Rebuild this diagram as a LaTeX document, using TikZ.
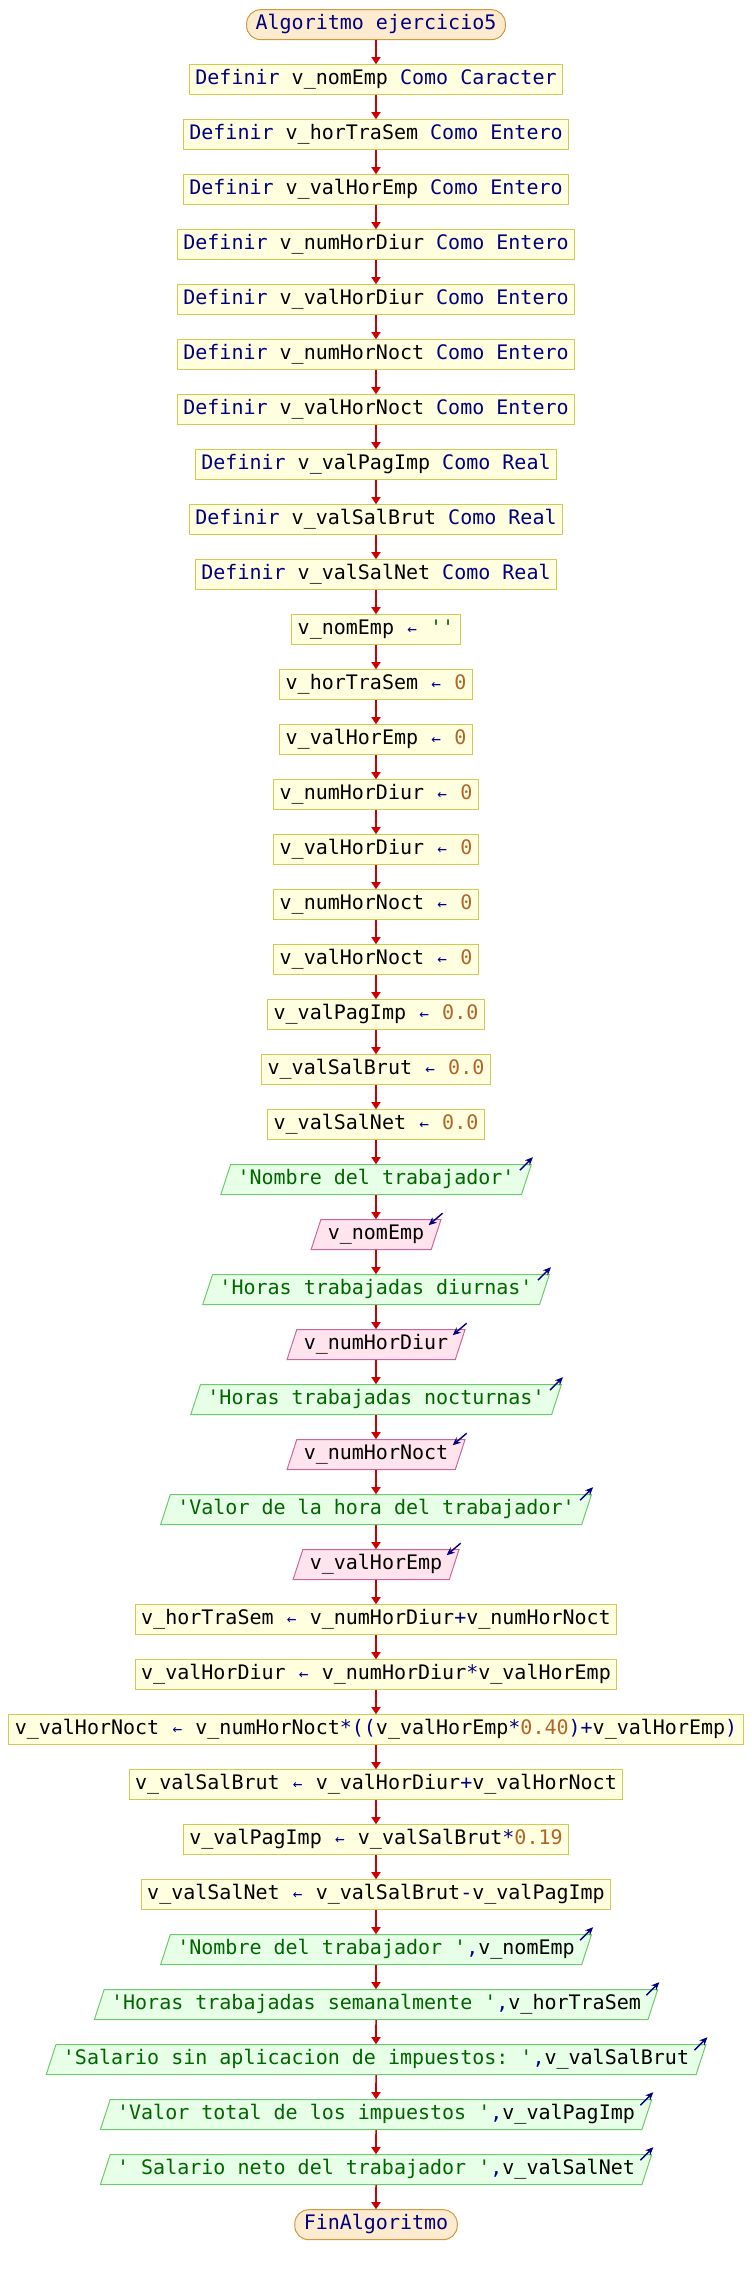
\documentclass[tikz,border=0pt]{standalone}
\usepackage{fontspec}
\setmonofont{DejaVu Sans Mono}
\usetikzlibrary{shapes.geometric,arrows.meta}
\definecolor{kwc}{RGB}{0,0,128}
\definecolor{strc}{RGB}{0,100,0}
\definecolor{numc}{RGB}{176,100,40}
\definecolor{procf}{RGB}{255,255,224}
\definecolor{procd}{RGB}{204,204,85}
\definecolor{termf}{RGB}{253,235,208}
\definecolor{termd}{RGB}{210,150,60}
\definecolor{outf}{RGB}{230,255,230}
\definecolor{outd}{RGB}{110,200,110}
\definecolor{inf}{RGB}{255,228,238}
\definecolor{ind}{RGB}{204,102,153}
\definecolor{flowc}{RGB}{204,0,0}
\newcommand{\K}[1]{\textcolor{kwc}{#1}}
\newcommand{\Sg}[1]{\textcolor{strc}{#1}}
\newcommand{\Nm}[1]{\textcolor{numc}{#1}}
\newcommand{\Ar}{\makebox[12.04pt]{\textcolor{kwc}{\fontsize{16}{16}\selectfont ←}}}
\tikzset{
  base/.style={font=\ttfamily\fontsize{20}{24}\selectfont, text height=15pt, text depth=5pt, inner ysep=5pt, inner xsep=6pt, line width=1pt},
  proc/.style={base, rectangle, draw=procd, fill=procf},
  term/.style={base, rectangle, rounded corners=14pt, draw=termd, fill=termf, inner xsep=9pt, text=kwc},
  outp/.style={base, trapezium, trapezium left angle=72, trapezium right angle=108, draw=outd, fill=outf, inner xsep=7pt},
  inp/.style={base, trapezium, trapezium left angle=72, trapezium right angle=108, draw=ind, fill=inf, inner xsep=7pt},
  flow/.style={draw=flowc, line width=1.6pt, -{Triangle[length=7pt,width=9pt]}},
  icon/.style={draw=kwc, line width=1.4pt, -{Stealth[length=8pt,width=7pt]}}
}
\newcommand{\OutIcon}[1]{\draw[icon] ([shift={(-12pt,-6pt)}]#1.top right corner) -- ([shift={(1pt,7pt)}]#1.top right corner);}
\newcommand{\InIcon}[1]{\draw[icon] ([shift={(1pt,6pt)}]#1.top right corner) -- ([shift={(-13pt,-6pt)}]#1.top right corner);}
\begin{document}
\begin{tikzpicture}[x=1pt,y=-1pt]
\useasboundingbox (0,0) rectangle (752,2275);
\node[term] (n0) at (376,24.7) {Algoritmo ejercicio5};
\node[proc] (n1) at (376,79.7) {\K{Definir} v\_nomEmp \K{Como Caracter}};
\node[proc] (n2) at (376,134.7) {\K{Definir} v\_horTraSem \K{Como Entero}};
\node[proc] (n3) at (376,189.7) {\K{Definir} v\_valHorEmp \K{Como Entero}};
\node[proc] (n4) at (376,244.7) {\K{Definir} v\_numHorDiur \K{Como Entero}};
\node[proc] (n5) at (376,299.7) {\K{Definir} v\_valHorDiur \K{Como Entero}};
\node[proc] (n6) at (376,354.7) {\K{Definir} v\_numHorNoct \K{Como Entero}};
\node[proc] (n7) at (376,409.7) {\K{Definir} v\_valHorNoct \K{Como Entero}};
\node[proc] (n8) at (376,464.7) {\K{Definir} v\_valPagImp \K{Como Real}};
\node[proc] (n9) at (376,519.7) {\K{Definir} v\_valSalBrut \K{Como Real}};
\node[proc] (n10) at (376,574.7) {\K{Definir} v\_valSalNet \K{Como Real}};
\node[proc] (n11) at (376,629.7) {v\_nomEmp \Ar{} \Sg{''}};
\node[proc] (n12) at (376,684.7) {v\_horTraSem \Ar{} \Nm{0}};
\node[proc] (n13) at (376,739.7) {v\_valHorEmp \Ar{} \Nm{0}};
\node[proc] (n14) at (376,794.7) {v\_numHorDiur \Ar{} \Nm{0}};
\node[proc] (n15) at (376,849.7) {v\_valHorDiur \Ar{} \Nm{0}};
\node[proc] (n16) at (376,904.7) {v\_numHorNoct \Ar{} \Nm{0}};
\node[proc] (n17) at (376,959.7) {v\_valHorNoct \Ar{} \Nm{0}};
\node[proc] (n18) at (376,1014.7) {v\_valPagImp \Ar{} \Nm{0.0}};
\node[proc] (n19) at (376,1069.7) {v\_valSalBrut \Ar{} \Nm{0.0}};
\node[proc] (n20) at (376,1124.7) {v\_valSalNet \Ar{} \Nm{0.0}};
\node[outp] (n21) at (376,1179.7) {\Sg{'Nombre del trabajador'}};
\node[inp] (n22) at (376,1234.7) {v\_nomEmp};
\node[outp] (n23) at (376,1289.7) {\Sg{'Horas trabajadas diurnas'}};
\node[inp] (n24) at (376,1344.7) {v\_numHorDiur};
\node[outp] (n25) at (376,1399.7) {\Sg{'Horas trabajadas nocturnas'}};
\node[inp] (n26) at (376,1454.7) {v\_numHorNoct};
\node[outp] (n27) at (376,1509.7) {\Sg{'Valor de la hora del trabajador'}};
\node[inp] (n28) at (376,1564.7) {v\_valHorEmp};
\node[proc] (n29) at (376,1619.7) {v\_horTraSem \Ar{} v\_numHorDiur\K{+}v\_numHorNoct};
\node[proc] (n30) at (376,1674.7) {v\_valHorDiur \Ar{} v\_numHorDiur\K{*}v\_valHorEmp};
\node[proc] (n31) at (376,1729.7) {v\_valHorNoct \Ar{} v\_numHorNoct\K{*((}v\_valHorEmp\K{*}\Nm{0.40}\K{)+}v\_valHorEmp\K{)}};
\node[proc] (n32) at (376,1784.7) {v\_valSalBrut \Ar{} v\_valHorDiur\K{+}v\_valHorNoct};
\node[proc] (n33) at (376,1839.7) {v\_valPagImp \Ar{} v\_valSalBrut\K{*}\Nm{0.19}};
\node[proc] (n34) at (376,1894.7) {v\_valSalNet \Ar{} v\_valSalBrut\K{-}v\_valPagImp};
\node[outp] (n35) at (376,1949.7) {\Sg{'Nombre del trabajador '}\K{,}v\_nomEmp};
\node[outp] (n36) at (376,2004.7) {\Sg{'Horas trabajadas semanalmente '}\K{,}v\_horTraSem};
\node[outp] (n37) at (376,2059.7) {\Sg{'Salario sin aplicacion de impuestos: '}\K{,}v\_valSalBrut};
\node[outp] (n38) at (376,2114.7) {\Sg{'Valor total de los impuestos '}\K{,}v\_valPagImp};
\node[outp] (n39) at (376,2169.7) {\Sg{' Salario neto del trabajador '}\K{,}v\_valSalNet};
\node[term] (n40) at (376,2224.7) {FinAlgoritmo};
\foreach \a/\b in {0/1,1/2,2/3,3/4,4/5,5/6,6/7,7/8,8/9,9/10,10/11,11/12,12/13,13/14,14/15,15/16,16/17,17/18,18/19,19/20,20/21,21/22,22/23,23/24,24/25,25/26,26/27,27/28,28/29,29/30,30/31,31/32,32/33,33/34,34/35,35/36,36/37,37/38,38/39,39/40}
  \draw[flow] (n\a) -- (n\b);
\OutIcon{n21}\OutIcon{n23}\OutIcon{n25}\OutIcon{n27}
\OutIcon{n35}\OutIcon{n36}\OutIcon{n37}\OutIcon{n38}\OutIcon{n39}
\InIcon{n22}\InIcon{n24}\InIcon{n26}\InIcon{n28}
\end{tikzpicture}
\end{document}
